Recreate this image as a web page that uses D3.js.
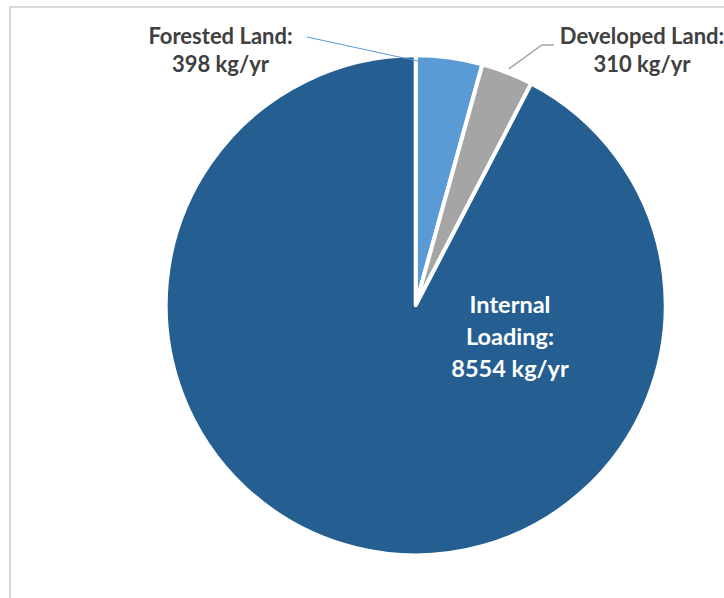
<!DOCTYPE html>
<html>
<head>
<meta charset="utf-8">
<script src="https://cdn.jsdelivr.net/npm/d3@7"></script>
<style>
  html, body { margin: 0; padding: 0; background: #fff; }
  svg { display: block; }
</style>
</head>
<body>
<svg id="chart" width="724" height="598"></svg>
<script>
const categories = ["Forested Land", "Developed Land", "Internal Loading"];
const values = [398, 310, 8554];
const units = "kg/yr";
const colors = ["#5b9bd5", "#a5a5a5", "#255e91"];

const svg = d3.select("#chart");

// frame
svg.append("rect")
  .attr("x", 10).attr("y", 7)
  .attr("width", 730).attr("height", 610)
  .attr("fill", "#fff")
  .attr("stroke", "#d9d9d9").attr("stroke-width", 2);

const cx = 415.7, cy = 305.3, R = 250;
const g = svg.append("g").attr("transform", `translate(${cx},${cy})`);

const data = categories.map((c, i) => ({ name: c, value: values[i], color: colors[i] }));
const pie = d3.pie().value(d => d.value).sort(null);
const arcs = pie(data);
const arc = d3.arc().innerRadius(0).outerRadius(R);

g.selectAll("path.slice")
  .data(arcs)
  .join("path")
  .attr("class", "slice")
  .attr("d", arc)
  .attr("fill", d => d.data.color)
  .attr("stroke", "#fff")
  .attr("stroke-width", 4)
  .attr("stroke-linejoin", "round");

const font = "Lato, 'Open Sans', sans-serif";

const onArc = (a, rr) => [Math.sin(a) * rr, -Math.cos(a) * rr];

// Forested leader
const fA = arcs[0].startAngle + (arcs[0].endAngle - arcs[0].startAngle) * 0.05;
const fP = onArc(fA, R - 6);
g.append("path")
  .attr("d", d3.line()([[307 - cx, 37 - cy], fP]))
  .attr("fill", "none").attr("stroke", colors[0]).attr("stroke-width", 1);

// Developed leader
const dA = (arcs[1].startAngle + arcs[1].endAngle) / 2;
const dP = onArc(dA, R + 4);
g.append("path")
  .attr("d", d3.line()([dP, [542 - cx, 45 - cy], [554 - cx, 45 - cy]]))
  .attr("fill", "none").attr("stroke", colors[1]).attr("stroke-width", 1.5);

function label(x, y, lines, size, color, lh) {
  const t = svg.append("text")
    .attr("x", x).attr("y", y)
    .attr("text-anchor", "middle")
    .attr("font-family", font)
    .attr("font-weight", "bold")
    .attr("font-size", size)
    .attr("fill", color);
  lines.forEach((l, i) => {
    t.append("tspan").attr("x", x).attr("dy", i === 0 ? 0 : lh).text(l);
  });
  return t;
}

label(220.5, 43.5, [categories[0] + ":", `${values[0]} ${units}`], 22, "#404040", 28);
label(642, 43.5, [categories[1] + ":", `${values[1]} ${units}`], 22, "#404040", 28);
label(510, 313, ["Internal", "Loading:", `${values[2]} ${units}`], 23.5, "#ffffff", 32);
</script>
</body>
</html>
